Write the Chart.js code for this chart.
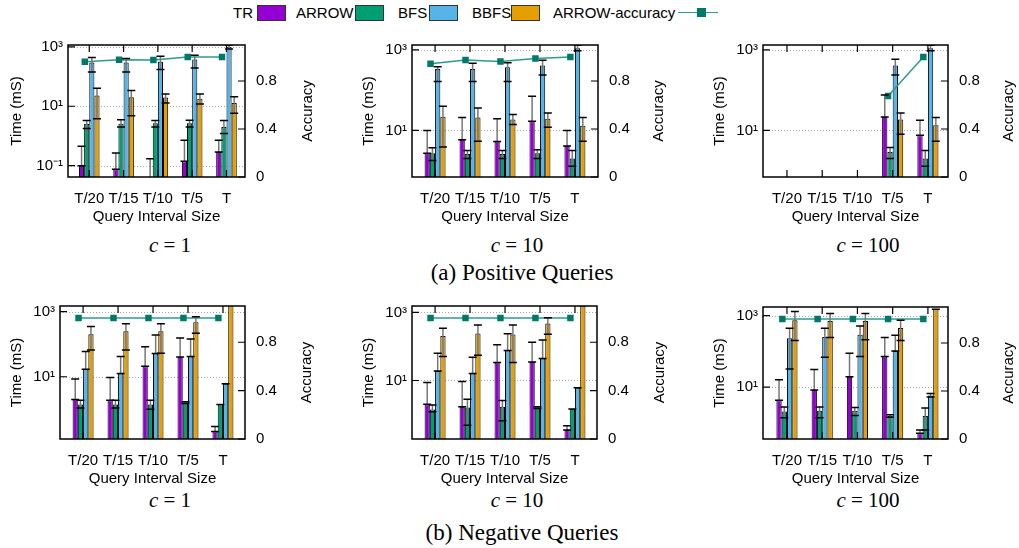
<!DOCTYPE html>
<html>
<head>
<meta charset="utf-8">
<script src="https://cdn.jsdelivr.net/npm/chart.js@4.4.1/dist/chart.umd.min.js"></script>
<style>
body { margin: 0; background: #fff; width: 1019px; height: 548px; overflow: hidden; position: relative;
       font-family: 'Liberation Sans', Arial, sans-serif; color: #000; }
canvas { position: absolute; }
.lg { position: absolute; top: 4px; font-size: 15px; line-height: 18px; white-space: nowrap; }
.box { position: absolute; top: 5px; width: 27px; height: 14px; border: 1px solid #333; }
.cap { position: absolute; font-family: 'Liberation Serif', 'Times New Roman', serif; transform: translateX(-50%);
       white-space: nowrap; line-height: 1; }
</style>
</head>
<body>

<div class="lg" style="left:233px">TR</div><div class="box" style="left:257px;background:#9400d3"></div>
<div class="lg" style="left:296px">ARROW</div><div class="box" style="left:355px;background:#009e73"></div>
<div class="lg" style="left:398px">BFS</div><div class="box" style="left:429px;background:#56b4e9"></div>
<div class="lg" style="left:472px">BBFS</div><div class="box" style="left:511px;background:#e69f00"></div>
<div class="lg" style="left:553px">ARROW-accuracy</div>
<div style="position:absolute;left:678px;top:12px;width:40px;height:0;border-top:1.5px solid #2a9d8c"></div>
<div style="position:absolute;left:697px;top:8px;width:9px;height:9px;background:#00786a"></div>

<div class="cap" style="left:170px;top:235px;font-size:21px"><i>c</i> = 1</div>
<div class="cap" style="left:517px;top:235px;font-size:21px"><i>c</i> = 10</div>
<div class="cap" style="left:868px;top:235px;font-size:21px"><i>c</i> = 100</div>
<div class="cap" style="left:522px;top:261px;font-size:23px">(a) Positive Queries</div>
<div class="cap" style="left:170px;top:490px;font-size:21px"><i>c</i> = 1</div>
<div class="cap" style="left:517px;top:490px;font-size:21px"><i>c</i> = 10</div>
<div class="cap" style="left:868px;top:490px;font-size:21px"><i>c</i> = 100</div>
<div class="cap" style="left:522px;top:521px;font-size:23px">(b) Negative Queries</div>

<script>
const categories = ['T/20', 'T/15', 'T/10', 'T/5', 'T'];
const seriesNames = ['TR', 'ARROW', 'BFS', 'BBFS'];
const seriesColors = ['#9400d3', '#009e73', '#56b4e9', '#e69f00'];
const logTickValues = [0.1, 10, 1000];
const logTickLabels = ['10⁻¹', '10¹', '10³'];
const accTickValues = [0, 0.4, 0.8];
const accTickLabels = ['0', '0.4', '0.8'];

// (a) positive queries, c = 1
const pos1TR = [0.10, 0.076, 0.03, 0.14, 0.29];
const pos1TRerr = [[0.10, 0.45], [0.076, 0.27], [0.03, 0.17], [0.14, 0.72], [0.29, 0.72]];
const pos1ARROW = [2.6, 2.6, 2.7, 2.7, 2.0];
const pos1ARROWerr = [[1.8, 3.3], [2.0, 3.5], [2.0, 3.3], [2.0, 3.4], [1.2, 3.3]];
const pos1BFS = [295, 295, 316, 376, 1000];
const pos1BFSerr = [[142, 437], [142, 400], [173, 480], [195, 518], [840, 1150]];
const pos1BBFS = [23, 20, 19.6, 18, 12.8];
const pos1BBFSerr = [[3.8, 40], [4.8, 34], [12.9, 26], [11.8, 26], [5.8, 21]];
const pos1Acc = [0.96, 0.977, 0.975, 1.0, 1.0];

// (a) positive queries, c = 10
const pos10TR = [2.7, 5.9, 5.3, 17, 4.1];
const pos10TRerr = [[2.7, 10], [5.9, 21], [5.3, 19.5], [17, 71], [4.1, 10]];
const pos10ARROW = [2.7, 2.6, 2.6, 2.7, 2.0];
const pos10ARROWerr = [[1.8, 3.7], [2.0, 3.2], [2.0, 3.2], [2.0, 3.3], [1.3, 3.2]];
const pos10BFS = [337, 337, 368, 410, 1090];
const pos10BFSerr = [[165, 380], [165, 465], [165, 480], [236, 555], [950, 1300]];
const pos10BBFS = [22, 21, 18.7, 19.4, 13];
const pos10BBFSerr = [[3.9, 40], [5.4, 36], [14, 25], [12, 27], [5.4, 21]];
const pos10Acc = [0.943, 0.975, 0.962, 0.988, 1.0];

// (a) positive queries, c = 100
const pos100TR = [null, null, null, 21.5, 7.6];
const pos100TRerr = [null, null, null, [21.5, 76], [7.6, 18]];
const pos100ARROW = [null, null, null, 2.9, 2.0];
const pos100ARROWerr = [null, null, null, [2.0, 3.8], [1.3, 3.2]];
const pos100BFS = [null, null, null, 410, 1090];
const pos100BFSerr = [null, null, null, [236, 585], [950, 1300]];
const pos100BBFS = [null, null, null, 18.7, 13.5];
const pos100BBFSerr = [null, null, null, [8, 27], [5.4, 21]];
const pos100Acc = [null, null, null, 0.675, 1.0];

// (b) negative queries, c = 1
const neg1TR = [2.0, 1.9, 21, 40, 0.21];
const neg1TRerr = [[2.0, 8.5], [1.9, 9.5], [21, 83], [40, 155], [0.21, 0.30]];
const neg1ARROW = [1.4, 1.4, 1.4, 1.6, 1.4];
const neg1ARROWerr = [[1.1, 1.9], [1.1, 1.9], [1.0, 1.9], [1.5, 1.7], [1.4, 1.4]];
const neg1BFS = [17, 12.5, 52, 42, 6.1];
const neg1BFSerr = [[17, 59], [12.5, 42], [52, 190], [42, 145], [6.1, 6.1]];
const neg1BBFS = [200, 250, 250, 470, 1600];
const neg1BBFSerr = [[66, 350], [66, 420], [53, 420], [215, 690], [1600, 1600]];
const neg1Acc = [1.0, 1.0, 1.0, 1.0, 1.0];

// (b) negative queries, c = 10
const neg10TR = [2.0, 1.7, 34, 35, 0.35];
const neg10TRerr = [[2.0, 8.8], [1.7, 9.4], [34, 112], [35, 133], [0.35, 0.47]];
const neg10ARROW = [1.4, 1.6, 1.7, 1.6, 1.45];
const neg10ARROWerr = [[1.2, 1.9], [0.48, 2.8], [0.65, 2.6], [1.5, 1.7], [1.45, 1.45]];
const neg10BFS = [19, 16, 76, 44, 6.1];
const neg10BFSerr = [[19, 63], [16, 48], [76, 235], [44, 155], [6.1, 6.1]];
const neg10BBFS = [204, 240, 226, 476, 1600];
const neg10BBFSerr = [[51, 345], [55, 430], [34, 430], [227, 700], [1600, 1600]];
const neg10Acc = [1.0, 1.0, 1.0, 1.0, 1.0];

// (b) negative queries, c = 100
const neg100TR = [4.3, 8.3, 19.5, 72, 0.51];
const neg100TRerr = [[4.3, 16], [8.3, 31], [19.5, 89], [72, 243], [0.51, 0.63]];
const neg100ARROW = [2.1, 2.2, 2.2, 1.55, 1.55];
const neg100ARROWerr = [[1.4, 2.8], [1.4, 2.8], [1.6, 2.7], [1.45, 1.7], [0.63, 2.6]];
const neg100BFS = [234, 253, 292, 102, 5.8];
const neg100BFSerr = [[32, 445], [68, 445], [72, 513], [102, 280], [5.3, 6.6]];
const neg100BBFS = [740, 710, 710, 447, 1500];
const neg100BBFSerr = [[200, 1300], [243, 1150], [210, 1150], [200, 740], [1500, 1500]];
const neg100Acc = [1.0, 1.0, 1.0, 1.0, 1.0];

const lineColor = '#2a9d8c';
const markColor = '#00786a';

Chart.defaults.font.family = "'Liberation Sans', Arial, sans-serif";
Chart.defaults.font.size = 15;
Chart.defaults.color = '#000';

// dotted grid, error bars, frame with inward ticks, right axis title
const panelDeco = {
    id: 'panelDeco',
    beforeDatasetsDraw(chart) {
        const {ctx, chartArea: a, scales} = chart;
        ctx.save();
        ctx.strokeStyle = '#aaa';
        ctx.lineWidth = 1;
        ctx.setLineDash([1, 2]);
        scales.y.ticks.forEach(t => {
            const py = Math.round(scales.y.getPixelForValue(t.value)) + 0.5;
            ctx.beginPath();
            ctx.moveTo(a.left, py);
            ctx.lineTo(a.right, py);
            ctx.stroke();
        });
        ctx.restore();
    },
    afterDatasetsDraw(chart) {
        const {ctx, chartArea: a, scales} = chart;
        ctx.save();
        ctx.beginPath();
        ctx.rect(a.left, a.top, a.right - a.left, a.bottom - a.top);
        ctx.clip();
        ctx.lineWidth = 1.5;
        chart.data.datasets.forEach((ds, di) => {
            if (!ds.err) return;
            chart.getDatasetMeta(di).data.forEach((bar, i) => {
                const e = ds.err[i];
                if (!e || ds.data[i].y == null) return;
                const lo = scales.y.getPixelForValue(e[0]);
                const hi = scales.y.getPixelForValue(e[1]);
                ctx.strokeStyle = '#777';
                ctx.beginPath();
                ctx.moveTo(bar.x, lo);
                ctx.lineTo(bar.x, hi);
                ctx.stroke();
                ctx.strokeStyle = '#000';
                ctx.beginPath();
                ctx.moveTo(bar.x - 4, lo); ctx.lineTo(bar.x + 4, lo);
                ctx.moveTo(bar.x - 4, hi); ctx.lineTo(bar.x + 4, hi);
                ctx.stroke();
            });
        });
        ctx.restore();
    },
    afterDraw(chart) {
        const {ctx, chartArea: a, scales} = chart;
        ctx.save();
        ctx.strokeStyle = '#000';
        ctx.lineWidth = 1.5;
        ctx.strokeRect(a.left, a.top, a.right - a.left, a.bottom - a.top);
        ctx.lineWidth = 1.2;
        ctx.beginPath();
        scales.x.ticks.forEach(t => {
            const px = scales.x.getPixelForValue(t.value);
            ctx.moveTo(px, a.top); ctx.lineTo(px, a.top + 7);
            ctx.moveTo(px, a.bottom); ctx.lineTo(px, a.bottom - 7);
        });
        scales.y.ticks.forEach(t => {
            const py = scales.y.getPixelForValue(t.value);
            ctx.moveTo(a.left, py); ctx.lineTo(a.left + 7, py);
        });
        scales.y2.ticks.forEach(t => {
            const py = scales.y2.getPixelForValue(t.value);
            ctx.moveTo(a.right, py); ctx.lineTo(a.right - 7, py);
        });
        ctx.stroke();

        ctx.translate(scales.y2.right - 9, (a.top + a.bottom) / 2);
        ctx.rotate(-Math.PI / 2);
        ctx.fillStyle = '#000';
        ctx.font = "15px 'Liberation Sans', Arial, sans-serif";
        ctx.textAlign = 'center';
        ctx.textBaseline = 'middle';
        ctx.fillText('Accuracy', 0, 0);
        ctx.restore();
    }
};

function drawPanel(p) {
    const cv = document.createElement('canvas');
    cv.width = p.yW + p.plotW + p.y2W;
    cv.height = 12 + p.plotH + 50;
    cv.style.left = p.left + 'px';
    cv.style.top = p.top + 'px';
    document.body.appendChild(cv);

    const datasets = p.vals.map((vals, s) => ({
        type: 'bar',
        label: seriesNames[s],
        data: vals.map((v, i) => ({x: i, y: v})),
        err: p.errs[s],
        backgroundColor: seriesColors[s],
        borderColor: '#000',
        borderWidth: 1,
        categoryPercentage: 0.6,
        barPercentage: 1,
        yAxisID: 'y',
        order: 1
    }));
    datasets.push({
        type: 'line',
        label: 'ARROW-accuracy',
        data: p.acc.map((v, i) => ({x: i - 0.13, y: v})),
        yAxisID: 'y2',
        borderColor: lineColor,
        borderWidth: 1.5,
        pointStyle: 'rect',
        pointRadius: 3.5,
        pointBackgroundColor: markColor,
        pointBorderColor: markColor,
        order: 0
    });

    new Chart(cv, {
        type: 'bar',
        data: {datasets},
        options: {
            responsive: false,
            animation: false,
            events: [],
            layout: {padding: {top: 12, left: 0, right: 0, bottom: 0}},
            plugins: {legend: {display: false}, tooltip: {enabled: false}},
            scales: {
                x: {
                    type: 'linear',
                    min: p.xMin,
                    max: p.xMax,
                    offset: false,
                    grid: {display: false, drawTicks: false},
                    border: {display: false},
                    afterBuildTicks: s => { s.ticks = categories.map((c, i) => ({value: i})); },
                    afterFit: s => { s.height = 50; },
                    ticks: {autoSkip: false, maxRotation: 0, padding: 13, callback: v => categories[v]},
                    title: {display: true, text: 'Query Interval Size', padding: {top: 0, bottom: 1}}
                },
                y: {
                    type: 'logarithmic',
                    position: 'left',
                    min: p.yMin,
                    max: p.yMax,
                    beginAtZero: false,
                    grid: {display: false, drawTicks: false},
                    border: {display: false},
                    afterBuildTicks: s => {
                        s.ticks = logTickValues.filter(v => v >= s.min && v <= s.max).map(v => ({value: v}));
                    },
                    afterFit: s => { s.width = p.yW; },
                    ticks: {padding: 5, callback: v => logTickLabels[logTickValues.indexOf(v)]},
                    title: {display: true, text: 'Time (mS)', padding: 0}
                },
                y2: {
                    type: 'linear',
                    position: 'right',
                    min: 0,
                    max: 1.1,
                    grid: {display: false, drawTicks: false},
                    border: {display: false},
                    afterBuildTicks: s => { s.ticks = accTickValues.map(v => ({value: v})); },
                    afterFit: s => { s.width = p.y2W; },
                    ticks: {padding: 11, callback: v => accTickLabels[accTickValues.indexOf(v)]}
                }
            }
        },
        plugins: [panelDeco]
    });
}

const panels = [
    {vals: [pos1TR, pos1ARROW, pos1BFS, pos1BBFS], errs: [pos1TRerr, pos1ARROWerr, pos1BFSerr, pos1BBFSerr], acc: pos1Acc,
     left: 8, top: 25, yW: 60, plotW: 177, y2W: 72, plotH: 140, xMin: -0.62, xMax: 4.54, yMin: Math.pow(10, -1.38), yMax: Math.pow(10, 3.06)},
    {vals: [pos10TR, pos10ARROW, pos10BFS, pos10BBFS], errs: [pos10TRerr, pos10ARROWerr, pos10BFSerr, pos10BBFSerr], acc: pos10Acc,
     left: 360, top: 25, yW: 52, plotW: 186, y2W: 70, plotH: 140, xMin: -0.66, xMax: 4.66, yMin: Math.pow(10, -0.14), yMax: Math.pow(10, 3.12)},
    {vals: [pos100TR, pos100ARROW, pos100BFS, pos100BBFS], errs: [pos100TRerr, pos100ARROWerr, pos100BFSerr, pos100BBFSerr], acc: pos100Acc,
     left: 711, top: 25, yW: 52, plotW: 185, y2W: 70, plotH: 140, xMin: -0.68, xMax: 4.57, yMin: Math.pow(10, -0.14), yMax: Math.pow(10, 3.12)},
    {vals: [neg1TR, neg1ARROW, neg1BFS, neg1BBFS], errs: [neg1TRerr, neg1ARROWerr, neg1BFSerr, neg1BBFSerr], acc: neg1Acc,
     left: 8, top: 286, yW: 52, plotW: 185, y2W: 71, plotH: 141, xMin: -0.66, xMax: 4.63, yMin: Math.pow(10, -0.91), yMax: Math.pow(10, 3.17)},
    {vals: [neg10TR, neg10ARROW, neg10BFS, neg10BBFS], errs: [neg10TRerr, neg10ARROWerr, neg10BFSerr, neg10BBFSerr], acc: neg10Acc,
     left: 360, top: 286, yW: 52, plotW: 185, y2W: 72, plotH: 141, xMin: -0.66, xMax: 4.63, yMin: Math.pow(10, -0.72), yMax: Math.pow(10, 3.19)},
    {vals: [neg100TR, neg100ARROW, neg100BFS, neg100BBFS], errs: [neg100TRerr, neg100ARROWerr, neg100BFSerr, neg100BBFSerr], acc: neg100Acc,
     left: 711, top: 287, yW: 52, plotW: 185, y2W: 70, plotH: 140, xMin: -0.68, xMax: 4.57, yMin: Math.pow(10, -0.45), yMax: Math.pow(10, 3.24)}
];

panels.forEach(drawPanel);
</script>
</body>
</html>
